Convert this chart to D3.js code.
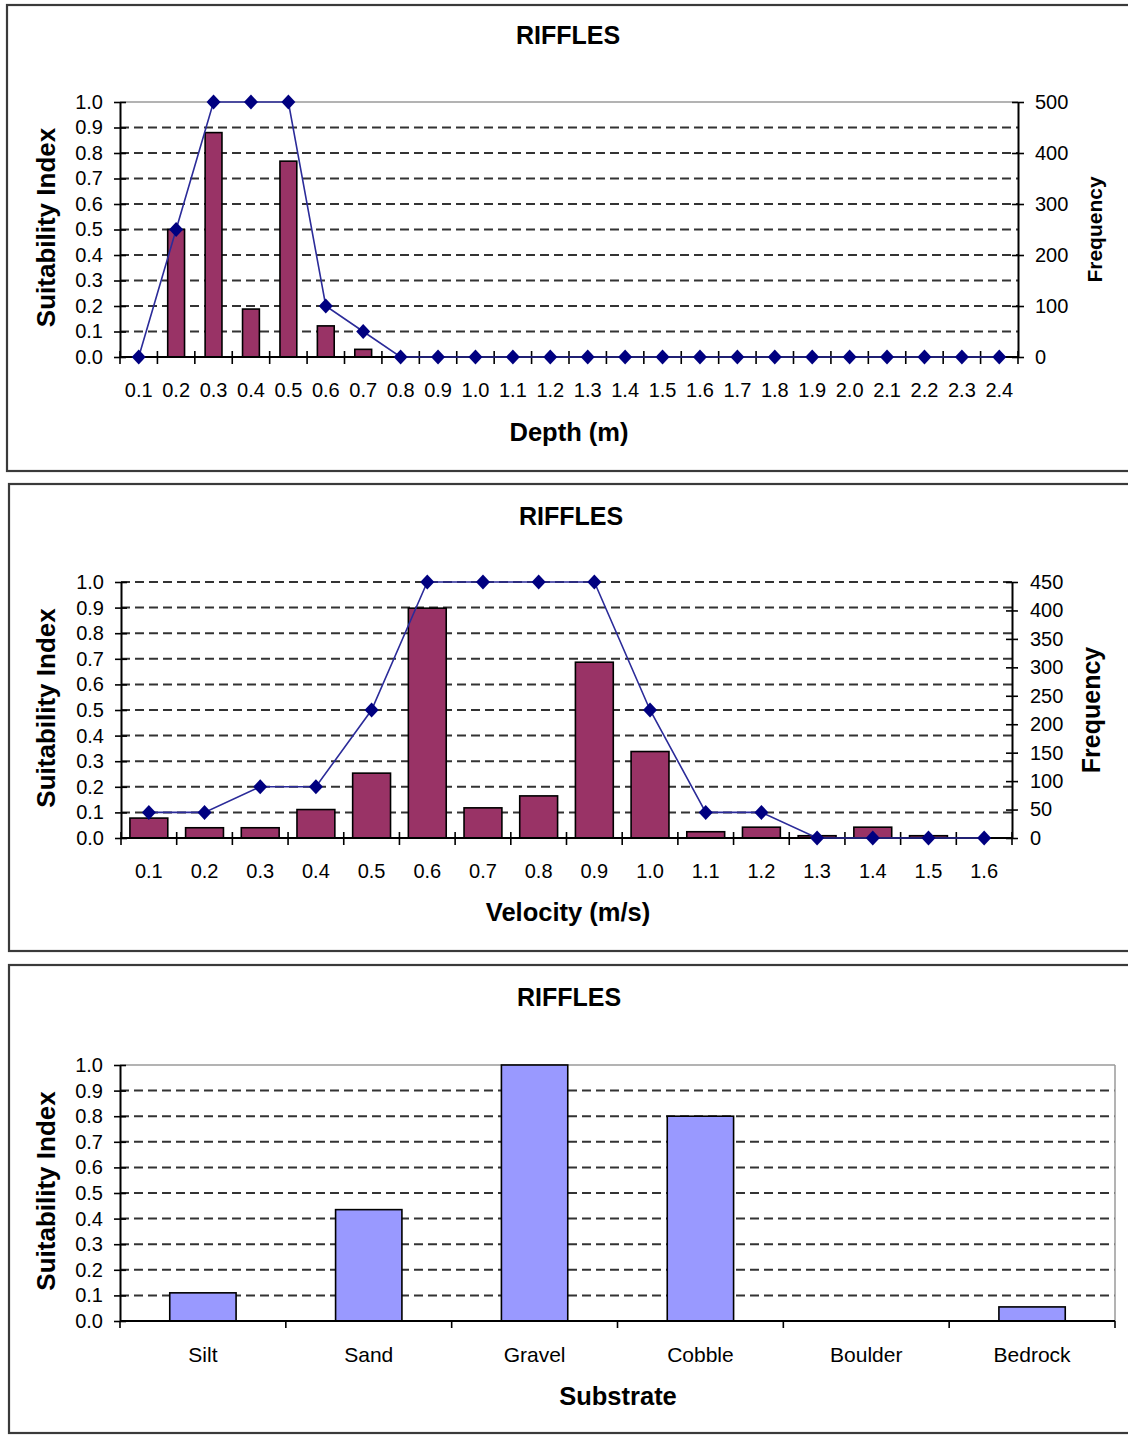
<!DOCTYPE html>
<html><head><meta charset="utf-8">
<script src="https://cdn.jsdelivr.net/npm/d3@7"></script>
<style>
body{margin:0;background:#fff;}
text{font-family:"Liberation Sans",Arial,sans-serif;fill:#000;}
</style></head>
<body><svg id="c" width="1128" height="1435"></svg>
<script>
// ---------- data ----------
const depthCats = ["0.1","0.2","0.3","0.4","0.5","0.6","0.7","0.8","0.9","1.0","1.1","1.2","1.3","1.4","1.5","1.6","1.7","1.8","1.9","2.0","2.1","2.2","2.3","2.4"];
const depthFreq = [0,250,440,94,384,61,15,0,0,0,0,0,0,0,0,0,0,0,0,0,0,0,0,0];
const depthSI   = [0,0.5,1,1,1,0.2,0.1,0,0,0,0,0,0,0,0,0,0,0,0,0,0,0,0,0];
const depthFreqTicks = [0,100,200,300,400,500];

const velCats = ["0.1","0.2","0.3","0.4","0.5","0.6","0.7","0.8","0.9","1.0","1.1","1.2","1.3","1.4","1.5","1.6"];
const velFreq = [35,18,18,50,114,404,53,74,309,152,11,19,4,19,4,0];
const velSI   = [0.1,0.1,0.2,0.2,0.5,1,1,1,1,0.5,0.1,0.1,0,0,0,0];
const velFreqTicks = [0,50,100,150,200,250,300,350,400,450];

const subCats = ["Silt","Sand","Gravel","Cobble","Boulder","Bedrock"];
const subSI   = [0.11,0.435,1.0,0.8,0,0.055];

const siTicks = [0,0.1,0.2,0.3,0.4,0.5,0.6,0.7,0.8,0.9,1.0];

// ---------- drawing ----------
const svg = d3.select("#c");
const BAR = "#993366", SUB = "#9999ff", LINE = "#2b2b99", MARK = "#000080";
const FF = "Liberation Sans, Arial, sans-serif";

function diamond(g, x, y) {
  return g.append("path").attr("d", `M${x},${y-7.5}L${x+7},${y}L${x},${y+7.5}L${x-7},${y}Z`).attr("fill", MARK);
}

function panel(o) {
  const g = svg.append("g");
  g.append("rect").attr("x", o.frame[0]).attr("y", o.frame[1]).attr("width", o.frame[2]).attr("height", o.frame[3])
    .attr("fill", "#fff").attr("stroke", "#3a3a3a").attr("stroke-width", 2.2);

  g.append("text").attr("x", o.titleX).attr("y", o.titleY).attr("text-anchor", "middle")
    .attr("font-size", 25).attr("font-weight", "bold").text("RIFFLES");

  const x = d3.scaleBand().domain(o.cats).range([o.x0, o.x1]).paddingInner(0).paddingOuter(0);
  const y = d3.scaleLinear().domain([0, 1]).range([o.yBot, o.yTop]);

  // gridlines
  const gridVals = siTicks.filter(v => v > 0 && (o.gridTop || v < 1));
  g.append("g").selectAll("line").data(gridVals).join("line")
    .attr("x1", o.x0).attr("x2", o.x1).attr("y1", d => y(d)).attr("y2", d => y(d))
    .attr("stroke", "#333").attr("stroke-width", 2).attr("stroke-dasharray", "9,5");
  if (!o.gridTop) {
    g.append("line").attr("x1", o.x0).attr("x2", o.x1).attr("y1", y(1)).attr("y2", y(1))
      .attr("stroke", "#9a9a9a").attr("stroke-width", 1.5);
  }
  if (o.rightBorder) {
    g.append("line").attr("x1", o.x1).attr("x2", o.x1).attr("y1", y(1)).attr("y2", y(0))
      .attr("stroke", "#9a9a9a").attr("stroke-width", 1.5);
  }

  // bars
  let yR = null;
  const bw = x.bandwidth() * o.barRatio;
  if (o.freq) {
    yR = d3.scaleLinear().domain([0, o.freqMax]).range([o.yBot, o.yTop]);
    g.append("g").selectAll("rect").data(o.freq.map((v, i) => ({c: o.cats[i], v}))).join("rect")
      .filter(d => d.v > 0)
      .attr("x", d => x(d.c) + (x.bandwidth() - bw) / 2).attr("width", bw)
      .attr("y", d => yR(d.v)).attr("height", d => yR(0) - yR(d.v))
      .attr("fill", BAR).attr("stroke", "#000").attr("stroke-width", 1.6);
  } else {
    g.append("g").selectAll("rect").data(o.si.map((v, i) => ({c: o.cats[i], v}))).join("rect")
      .filter(d => d.v > 0)
      .attr("x", d => x(d.c) + (x.bandwidth() - bw) / 2).attr("width", bw)
      .attr("y", d => y(d.v)).attr("height", d => y(0) - y(d.v))
      .attr("fill", SUB).attr("stroke", "#000").attr("stroke-width", 1.6);
  }

  // left axis
  const la = g.append("g").attr("transform", `translate(${o.x0},0)`)
    .call(d3.axisLeft(y).tickValues(siTicks).tickFormat(d3.format(".1f")).tickSize(6).tickSizeOuter(0).tickPadding(11));
  la.select(".domain").attr("stroke", "#000").attr("stroke-width", 2);
  la.selectAll(".tick line").attr("x1", 6).attr("x2", -6).attr("stroke-width", 1.6);
  la.selectAll(".tick text").attr("font-size", 20).attr("font-family", FF);

  // x axis: baseline, boundary ticks, labels
  g.append("line").attr("x1", o.x0).attr("x2", o.x1).attr("y1", y(0)).attr("y2", y(0)).attr("stroke", "#000").attr("stroke-width", 2);
  const bounds = o.cats.map(c => x(c)).concat([x(o.cats[o.cats.length - 1]) + x.bandwidth()]);
  g.append("g").selectAll("line").data(bounds).join("line")
    .attr("x1", d => d).attr("x2", d => d)
    .attr("y1", y(0) + (o.tickDownOnly ? 0 : -6)).attr("y2", y(0) + 7)
    .attr("stroke", "#000").attr("stroke-width", 1.6);
  const xa = g.append("g").attr("transform", `translate(0,${o.labelY})`)
    .call(d3.axisBottom(x).tickSize(0).tickPadding(0));
  xa.select(".domain").remove();
  xa.selectAll(".tick text").attr("font-size", o.catSize || 20).attr("font-family", FF).attr("dy", "0.35em").attr("y", 0);

  // right axis
  if (yR) {
    const ra = g.append("g").attr("transform", `translate(${o.x1},0)`)
      .call(d3.axisRight(yR).tickValues(o.freqTicks).tickSize(6).tickSizeOuter(0).tickPadding(o.rPad));
    ra.select(".domain").attr("stroke", "#000").attr("stroke-width", 2);
    ra.selectAll(".tick line").attr("x1", -6).attr("x2", 6).attr("stroke-width", 1.6);
    ra.selectAll(".tick text").attr("font-size", 20).attr("font-family", FF);
    g.append("text").attr("transform", `translate(${o.freqX},${(o.yTop + o.yBot) / 2}) rotate(-90)`)
      .attr("text-anchor", "middle").attr("dominant-baseline", "central")
      .attr("font-size", o.freqSize).attr("font-weight", "bold").text("Frequency");
  }

  // suitability line + markers
  if (o.freq) {
    const pts = o.si.map((v, i) => [x(o.cats[i]) + x.bandwidth() / 2, y(v)]);
    g.append("path").attr("d", d3.line()(pts)).attr("fill", "none").attr("stroke", LINE).attr("stroke-width", 1.6);
    pts.forEach(p => diamond(g, p[0], p[1]));
  }

  // titles
  g.append("text").attr("x", o.xTitleX).attr("y", o.xTitleY).attr("text-anchor", "middle")
    .attr("font-size", 25.5).attr("font-weight", "bold").text(o.xTitle);
  g.append("text").attr("transform", `translate(46,${(o.yTop + o.yBot) / 2 - 2}) rotate(-90)`)
    .attr("text-anchor", "middle").attr("dominant-baseline", "central")
    .attr("font-size", 26).attr("font-weight", "bold").text("Suitability Index");
}

panel({
  frame: [7, 5, 1130, 466], titleX: 568, titleY: 44,
  cats: depthCats, freq: depthFreq, si: depthSI, freqMax: 500, freqTicks: depthFreqTicks,
  x0: 120, x1: 1018, yTop: 102, yBot: 357, barRatio: 0.45, gridTop: false, rightBorder: false,
  labelY: 390, xTitle: "Depth (m)", xTitleX: 569, xTitleY: 441, freqX: 1094, freqSize: 21, rPad: 11
});
panel({
  frame: [9, 484, 1130, 467], titleX: 571, titleY: 525,
  cats: velCats, freq: velFreq, si: velSI, freqMax: 450, freqTicks: velFreqTicks,
  x0: 121, x1: 1012, yTop: 582, yBot: 838, barRatio: 0.68, gridTop: true, rightBorder: false,
  labelY: 871, xTitle: "Velocity (m/s)", xTitleX: 568, xTitleY: 921, freqX: 1091, freqSize: 25, rPad: 12
});
panel({
  frame: [9, 965, 1130, 468], titleX: 569, titleY: 1006,
  cats: subCats, freq: null, si: subSI,
  x0: 120, x1: 1115, yTop: 1065, yBot: 1321, barRatio: 0.4, gridTop: false, rightBorder: true, tickDownOnly: true,
  labelY: 1355, catSize: 21, xTitle: "Substrate", xTitleX: 618, xTitleY: 1405
});
</script></body></html>
